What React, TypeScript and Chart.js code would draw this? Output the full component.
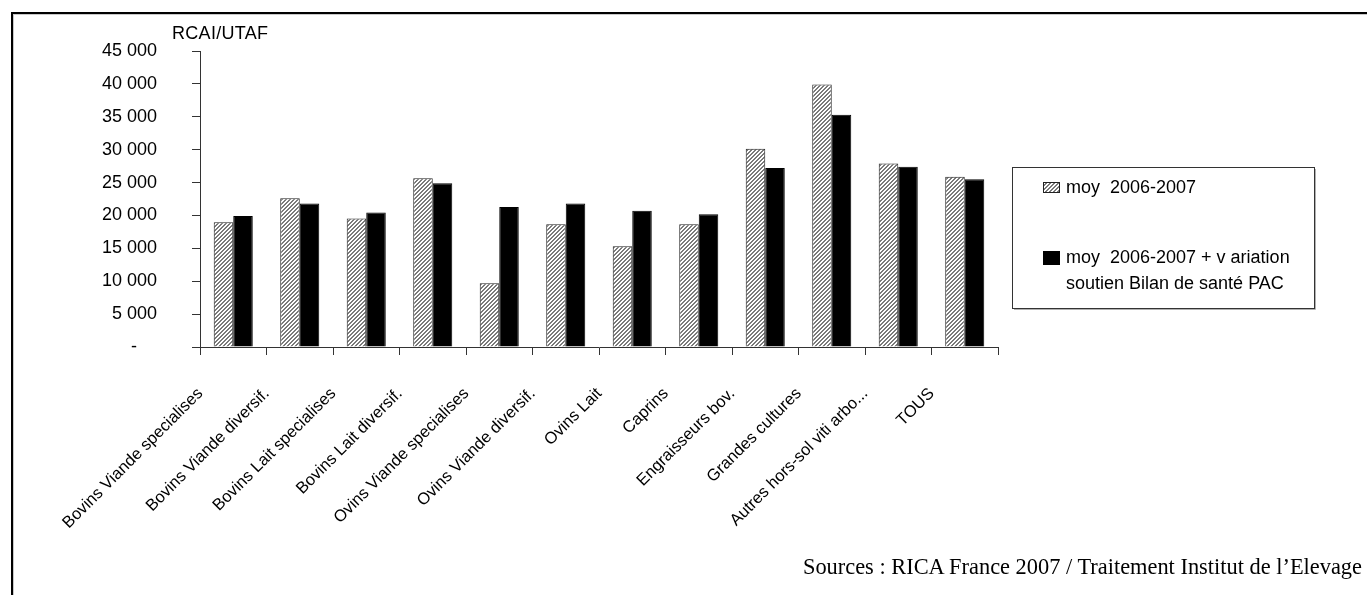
import React, { useEffect, useRef } from 'react';
import { Chart, registerables } from 'chart.js';

Chart.register(...registerables);

const categories = [
  'Bovins Viande specialises',
  'Bovins Viande diversif.',
  'Bovins Lait specialises',
  'Bovins Lait diversif.',
  'Ovins Viande specialises',
  'Ovins Viande diversif.',
  'Ovins Lait',
  'Caprins',
  'Engraisseurs bov.',
  'Grandes cultures',
  'Autres hors-sol viti arbo...',
  'TOUS',
];

const moy20062007 = [18950, 22600, 19550, 25650, 9700, 18650, 15300, 18650, 30150, 39900, 27900, 25900];
const moyPlusVariation = [19900, 21800, 20450, 24900, 21300, 21800, 20700, 20200, 27200, 35300, 27400, 25500];

const seriesLabels = ['moy  2006-2007', 'moy  2006-2007 + v ariation soutien Bilan de santé PAC'];
const legendLines = [['moy  2006-2007'], ['moy  2006-2007 + v ariation', 'soutien Bilan de santé PAC']];

const yTicks = [0, 5000, 10000, 15000, 20000, 25000, 30000, 35000, 40000, 45000];
const yAxisTitle = 'RCAI/UTAF';
const sourceText = 'Sources : RICA France 2007 / Traitement Institut de l\u2019Elevage';

const FONT = 'Liberation Sans, Arial, sans-serif';

function fmtY(v: number): string {
  if (v === 0) return '-    ';
  return String(v).replace(/\B(?=(\d{3})+(?!\d))/g, ' ');
}

function makePattern(ctx: CanvasRenderingContext2D): CanvasPattern | string {
  const c = document.createElement('canvas');
  c.width = 4;
  c.height = 4;
  const g = c.getContext('2d');
  if (!g) return '#bbb';
  g.fillStyle = '#ffffff';
  g.fillRect(0, 0, 4, 4);
  g.fillStyle = '#7a7a7a';
  for (let x = 0; x < 4; x++) {
    for (let y = 0; y < 4; y++) {
      if ((x + y) % 4 < 2) g.fillRect(x, y, 1, 1);
    }
  }
  return ctx.createPattern(c, 'repeat') || '#bbb';
}

const legendPlugin = {
  id: 'boxLegend',
  afterDraw(chart: any) {
    const ctx: CanvasRenderingContext2D = chart.ctx;
    ctx.save();
    ctx.strokeStyle = '#b0b0b0';
    ctx.lineWidth = 1;
    ctx.beginPath();
    ctx.moveTo(1014, 309.5);
    ctx.lineTo(1315.5, 309.5);
    ctx.lineTo(1315.5, 169);
    ctx.stroke();
    ctx.strokeStyle = '#333';
    ctx.strokeRect(1012.5, 167.5, 302, 141);
    const swatches = [
      { x: 1043, y: 182, w: 17, h: 11 },
      { x: 1043, y: 251, w: 17, h: 14 },
    ];
    const lineY = [[188], [258, 284]];
    chart.data.datasets.forEach((ds: any, i: number) => {
      const s = swatches[i];
      ctx.fillStyle = ds.backgroundColor;
      ctx.fillRect(s.x, s.y, s.w, s.h);
      ctx.strokeStyle = ds.borderColor;
      ctx.strokeRect(s.x + 0.5, s.y + 0.5, s.w - 1, s.h - 1);
      ctx.fillStyle = '#000';
      ctx.font = `18px ${FONT}`;
      ctx.textBaseline = 'middle';
      ctx.textAlign = 'left';
      legendLines[i].forEach((t, j) => ctx.fillText(t, 1066, lineY[i][j]));
    });
    ctx.restore();
  },
};

export default function App() {
  const ref = useRef<HTMLCanvasElement | null>(null);

  useEffect(() => {
    const canvas = ref.current;
    if (!canvas) return;
    const ctx = canvas.getContext('2d');
    if (!ctx) return;
    const pattern = makePattern(ctx);
    Chart.defaults.font.family = FONT;
    Chart.defaults.font.size = 18;
    Chart.defaults.color = '#000';

    const chart = new Chart(ctx, {
      type: 'bar',
      data: {
        labels: categories,
        datasets: [
          {
            label: seriesLabels[0],
            data: moy20062007,
            backgroundColor: pattern as any,
            borderColor: '#222',
            borderWidth: 1,
            categoryPercentage: 0.587,
            barPercentage: 1,
          },
          {
            label: seriesLabels[1],
            data: moyPlusVariation,
            backgroundColor: '#000',
            borderColor: '#000',
            borderWidth: 1,
            categoryPercentage: 0.587,
            barPercentage: 1,
          },
        ],
      },
      options: {
        responsive: false,
        animation: false,
        devicePixelRatio: 1,
        layout: { padding: { left: 0, top: 51, right: 369, bottom: 0 } },
        plugins: {
          legend: { display: false },
          tooltip: { enabled: false },
          title: { display: false },
        },
        scales: {
          x: {
            afterFit: (s: any) => {
              s.height = 248;
            },
            grid: {
              display: true,
              drawOnChartArea: false,
              drawTicks: true,
              tickLength: 8,
              color: '#333',
              offset: true,
            },
            border: { display: true, color: '#333', width: 1 },
            ticks: {
              autoSkip: false,
              maxRotation: 45,
              minRotation: 45,
              labelOffset: -33,
              padding: 29,
              color: '#000',
              font: { size: 16.5, family: FONT },
            },
          },
          y: {
            min: 0,
            max: 45000,
            afterFit: (s: any) => {
              s.width = 200;
            },
            afterBuildTicks: (s: any) => {
              s.ticks = yTicks.map((v) => ({ value: v }));
            },
            grid: {
              drawOnChartArea: false,
              drawTicks: true,
              tickLength: 8,
              color: '#333',
            },
            border: { display: true, color: '#333', width: 1 },
            ticks: {
              padding: 35,
              color: '#000',
              font: { size: 18, family: FONT },
              callback: (v: any) => fmtY(Number(v)),
            },
          },
        },
      },
      plugins: [legendPlugin],
    });
    return () => chart.destroy();
  }, []);

  return (
    <div
      style={{
        position: 'fixed',
        left: 0,
        top: 0,
        width: 1367,
        height: 595,
        overflow: 'hidden',
        background: '#fff',
      }}
    >
      <div
        style={{
          position: 'absolute',
          left: 13,
          top: 14,
          width: 2000,
          height: 2000,
          borderLeft: '1px solid #c8c8c8',
          borderTop: '1px solid #c8c8c8',
        }}
      />
      <div
        style={{
          position: 'absolute',
          left: 11,
          top: 12,
          width: 2000,
          height: 2000,
          borderLeft: '2px solid #000',
          borderTop: '2px solid #000',
        }}
      />
      <canvas ref={ref} width={1367} height={595} style={{ position: 'absolute', left: 0, top: 0 }} />
      <div
        style={{
          position: 'absolute',
          left: 172,
          top: 24,
          font: `18px ${FONT}`,
          lineHeight: '18px',
          letterSpacing: '0.3px',
          color: '#000',
          whiteSpace: 'nowrap',
        }}
      >
        {yAxisTitle}
      </div>
      <div
        style={{
          position: 'absolute',
          right: 5,
          top: 555,
          font: '22.4px "Liberation Serif", "Times New Roman", serif',
          lineHeight: '24px',
          color: '#000',
          whiteSpace: 'nowrap',
        }}
      >
        {sourceText}
      </div>
    </div>
  );
}
